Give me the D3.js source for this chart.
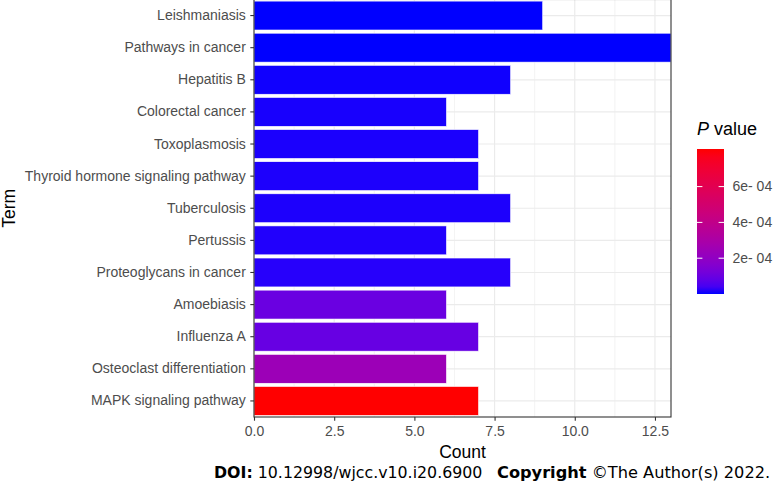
<!DOCTYPE html>
<html><head><meta charset="utf-8">
<script src="https://cdn.jsdelivr.net/npm/d3@7"></script>
<style>body{margin:0;background:#fff}svg{display:block}</style>
</head><body>
<svg id="c" width="773" height="491"></svg>
<script>
const terms = ["Leishmaniasis","Pathways in cancer","Hepatitis B","Colorectal cancer","Toxoplasmosis","Thyroid hormone signaling pathway","Tuberculosis","Pertussis","Proteoglycans in cancer","Amoebiasis","Influenza A","Osteoclast differentiation","MAPK signaling pathway"];
const counts = [9,13,8,6,7,7,8,6,8,6,7,6,7];
const pvalues = [1e-7,5e-8,3.5e-6,6e-6,7.5e-6,8.3e-6,8.5e-6,1.0e-5,1.35e-5,1.0e-4,9.3e-5,2.43e-4,8.1e-4];
const xTicks = [0,2.5,5,7.5,10,12.5];
const xMinor = [1.25,3.75,6.25,8.75,11.25];
const legendTicks = [2e-4,4e-4,6e-4];
const legendLabels = ["2e- 04","4e- 04","6e- 04"];

const svg = d3.select("#c");
const L=254, R=671, T=-0.5, B=417;
const x = d3.scaleLinear().domain([0,13]).range([L,R]);
const y = d3.scaleBand().domain(terms).range([T,B]).paddingInner(0.1).paddingOuter(0.05);
const pext = d3.extent(pvalues);
const color = d3.scaleLinear().domain(pext).range(["blue","red"]).interpolate(d3.interpolateLab);
const font = "Liberation Sans, Arial, sans-serif";

// panel background grid
const g = svg.append("g");
g.selectAll(".minor").data(xMinor).join("line")
  .attr("x1",d=>x(d)).attr("x2",d=>x(d)).attr("y1",T).attr("y2",B)
  .attr("stroke","#ebebeb").attr("stroke-width",0.6);
g.selectAll(".majx").data(xTicks).join("line")
  .attr("x1",d=>x(d)).attr("x2",d=>x(d)).attr("y1",T).attr("y2",B)
  .attr("stroke","#ebebeb").attr("stroke-width",1.2);
g.selectAll(".majy").data(terms).join("line")
  .attr("x1",L).attr("x2",R).attr("y1",d=>y(d)+y.bandwidth()/2).attr("y2",d=>y(d)+y.bandwidth()/2)
  .attr("stroke","#ebebeb").attr("stroke-width",1.2);

// bars
svg.selectAll(".bar").data(terms).join("rect")
  .attr("x",x(0)).attr("y",d=>y(d))
  .attr("width",(d,i)=>x(counts[i])-x(0)).attr("height",y.bandwidth())
  .attr("fill",(d,i)=>color(pvalues[i])).attr("stroke","#fff").attr("stroke-width",0.6);

// panel border
svg.append("rect").attr("x",L).attr("y",T).attr("width",R-L).attr("height",B-T)
  .attr("fill","none").attr("stroke","#333").attr("stroke-width",1.1);

// x axis
const xa = svg.append("g").attr("transform",`translate(0,${B})`)
  .call(d3.axisBottom(x).tickValues(xTicks).tickFormat(d3.format(".1f")).tickSize(3.7).tickPadding(5.5));
xa.select(".domain").remove();
xa.selectAll("line").attr("stroke","#333").attr("stroke-width",1.1);
xa.selectAll("text").attr("fill","#4d4d4d").style("font-family",font).style("font-size","14px");

// y axis
const ya = svg.append("g").attr("transform",`translate(${L},0)`)
  .call(d3.axisLeft(y).tickSize(3.7).tickPadding(4.5));
ya.select(".domain").remove();
ya.selectAll("line").attr("stroke","#333").attr("stroke-width",1.1);
ya.selectAll("text").attr("fill","#4d4d4d").style("font-family",font).style("font-size","14px");

// axis titles
svg.append("text").attr("x",(L+R)/2).attr("y",458).attr("text-anchor","middle")
  .style("font-family",font).style("font-size","17.5px").attr("fill","#000").text("Count");
svg.append("text").attr("transform",`translate(15,${(T+B)/2}) rotate(-90)`).attr("text-anchor","middle")
  .style("font-family",font).style("font-size","17.5px").attr("fill","#000").text("Term");

// legend
const lx=697, lw=27, ltop=149, lbot=294;
const ls = d3.scaleLinear().domain(pext).range([lbot,ltop]);
const defs = svg.append("defs");
const grad = defs.append("linearGradient").attr("id","gr").attr("x1",0).attr("x2",0).attr("y1",1).attr("y2",0);
d3.range(0,1.0001,0.05).forEach(t=>{
  grad.append("stop").attr("offset",t).attr("stop-color",color(pext[0]+t*(pext[1]-pext[0])));
});
svg.append("rect").attr("x",lx).attr("y",ltop).attr("width",lw).attr("height",lbot-ltop).attr("fill","url(#gr)");
legendTicks.forEach((v,i)=>{
  const yy=ls(v);
  svg.append("line").attr("x1",lx).attr("x2",lx+lw/5).attr("y1",yy).attr("y2",yy).attr("stroke","#fff").attr("stroke-width",1);
  svg.append("line").attr("x1",lx+lw*4/5).attr("x2",lx+lw).attr("y1",yy).attr("y2",yy).attr("stroke","#fff").attr("stroke-width",1);
  svg.append("text").attr("x",lx+lw+8.5).attr("y",yy).attr("dy","0.35em")
    .style("font-family",font).style("font-size","14px").attr("fill","#4d4d4d").text(legendLabels[i]);
});
const lt = svg.append("text").attr("x",697).attr("y",135).style("font-family",font).style("font-size","18px").attr("fill","#000");
lt.append("tspan").style("font-style","italic").text("P");
lt.append("tspan").text(" value");

// footer
const ff = "DejaVu Sans, Verdana, sans-serif";
const ft = svg.append("text").attr("x",214).attr("y",478).style("font-family",ff).style("font-size","15.8px").attr("fill","#000");
ft.append("tspan").style("font-weight","bold").text("DOI:");
ft.append("tspan").text(" 10.12998/wjcc.v10.i20.6900");
const ft2 = svg.append("text").attr("x",497).attr("y",478).style("font-family",ff).style("font-size","16.2px").attr("fill","#000");
ft2.append("tspan").style("font-weight","bold").text("Copyright");
ft2.append("tspan").text(" ©The Author(s) 2022.");
</script>
</body></html>
